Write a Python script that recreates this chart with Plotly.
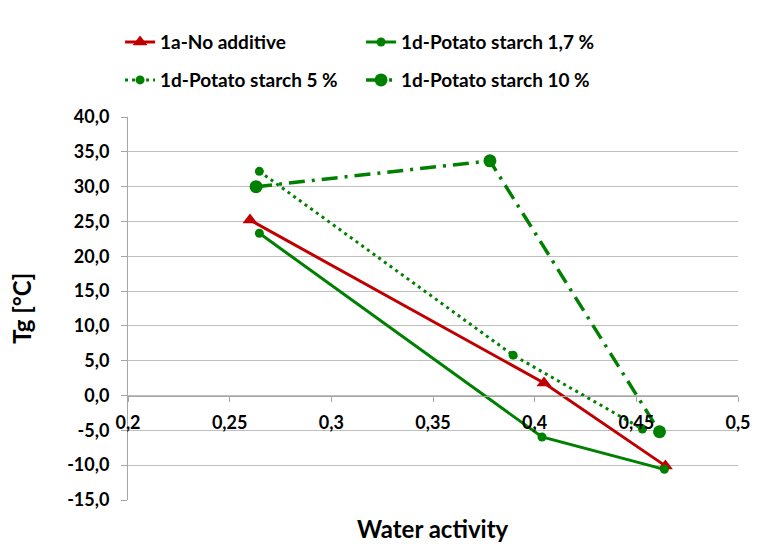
import plotly.graph_objects as go

# Water activity (x) and glass transition temperature Tg (y) for each formulation
aw_none = [0.260, 0.4046, 0.4643]
tg_none = [25.2, 1.8, -10.1]

aw_ps17 = [0.2646, 0.4036, 0.4638]
tg_ps17 = [23.3, -5.95, -10.6]

aw_ps5 = [0.2646, 0.3894, 0.453]
tg_ps5 = [32.2, 5.8, -4.8]

aw_ps10 = [0.263, 0.378, 0.4614]
tg_ps10 = [30.0, 33.7, -5.2]

y_ticks = [40, 35, 30, 25, 20, 15, 10, 5, 0, -5, -10, -15]
y_tick_text = ["40,0", "35,0", "30,0", "25,0", "20,0", "15,0", "10,0", "5,0",
               "0,0", "-5,0", "-10,0", "-15,0"]
x_ticks = [0.2, 0.25, 0.3, 0.35, 0.4, 0.45, 0.5]
x_tick_text = ["0,2", "0,25", "0,3", "0,35", "0,4", "0,45", "0,5"]

RED = "#C00000"
GREEN = "#008000"
FONT = "Lato"

fig = go.Figure()
fig.add_trace(go.Scatter(
    x=aw_none, y=tg_none, name="1a-No additive", mode="lines+markers",
    line=dict(color=RED, width=3),
    marker=dict(symbol="triangle-up", size=13, color=RED),
    legend="legend",
))
fig.add_trace(go.Scatter(
    x=aw_ps17, y=tg_ps17, name="1d-Potato starch 1,7 %", mode="lines+markers",
    line=dict(color=GREEN, width=3),
    marker=dict(symbol="circle", size=9, color=GREEN),
    legend="legend",
))
fig.add_trace(go.Scatter(
    x=aw_ps5, y=tg_ps5, name="1d-Potato starch 5 %", mode="lines+markers",
    line=dict(color=GREEN, width=3, dash="3px,4px"),
    marker=dict(symbol="circle", size=9, color=GREEN),
    legend="legend2",
))
fig.add_trace(go.Scatter(
    x=aw_ps10, y=tg_ps10, name="1d-Potato starch 10 %", mode="lines+markers",
    line=dict(color=GREEN, width=3.5, dash="16px,7px,3px,7px"),
    marker=dict(symbol="circle", size=13, color=GREEN),
    legend="legend2",
))

y_min, y_max = -15, 40
legend_common = dict(
    orientation="h", xanchor="left", yanchor="top",
    font=dict(family=FONT, size=19, color="#000000", weight="bold"),
    entrywidth=196, entrywidthmode="pixels",
    bgcolor="rgba(0,0,0,0)", itemwidth=30,
)

fig.update_layout(
    width=763, height=551,
    margin=dict(l=128, r=22, t=117, b=51),
    paper_bgcolor="white", plot_bgcolor="white",
    showlegend=True,
    legend=dict(x=-0.013, y=1.245, **legend_common),
    legend2=dict(x=-0.013, y=1.146, **legend_common),
    xaxis=dict(
        range=[0.2, 0.5], tickvals=x_ticks, ticktext=x_tick_text,
        anchor="free", position=(0 - y_min) / (y_max - y_min),
        showline=True, linecolor="#A6A6A6", linewidth=1,
        ticks="outside", ticklen=5, tickcolor="#A6A6A6",
        showgrid=False, zeroline=False,
        ticklabelstandoff=6,
        tickfont=dict(family=FONT, size=18, color="#000000", weight="bold"),
    ),
    yaxis=dict(
        range=[y_min, y_max], tickvals=y_ticks, ticktext=y_tick_text,
        domain=[0, 1],
        showline=True, linecolor="#A6A6A6", linewidth=1,
        ticks="outside", ticklen=6, tickcolor="#A6A6A6",
        showgrid=True, gridcolor="#BFBFBF", gridwidth=1, zeroline=False,
        ticklabelstandoff=8,
        tickfont=dict(family=FONT, size=18, color="#000000", weight="bold"),
    ),
    annotations=[
        dict(text="Water activity", xref="paper", yref="paper",
             x=0.5, y=-0.032, xanchor="center", yanchor="top", showarrow=False,
             font=dict(family=FONT, size=24, color="#000000", weight="bold")),
        dict(text="Tg [°C]", xref="paper", yref="paper",
             x=-0.175, y=0.5, xanchor="center", yanchor="middle", showarrow=False,
             textangle=-90,
             font=dict(family=FONT, size=24, color="#000000", weight="bold")),
    ],
)

fig.write_html("out.html")
